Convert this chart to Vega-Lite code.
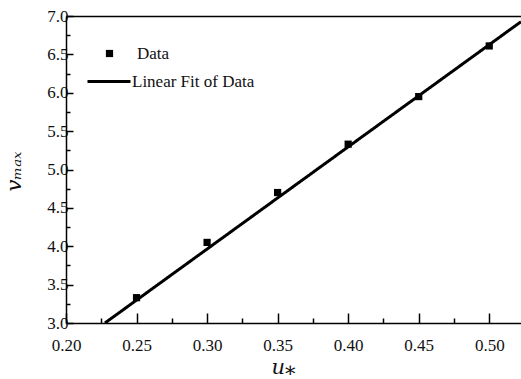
{
  "$schema": "https://vega.github.io/schema/vega-lite/v6.json",
  "width": 455,
  "height": 307,
  "autosize": {"type": "none"},
  "padding": {"left": 66, "top": 16, "right": 0, "bottom": 56},
  "background": "white",
  "config": {
    "view": {"stroke": null},
    "font": "Liberation Serif, Times New Roman, serif",
    "axis": {
      "labelFont": "Liberation Serif, Times New Roman, serif",
      "labelFontSize": 17,
      "labelColor": "#111",
      "titleColor": "#111",
      "domainColor": "black",
      "domainWidth": 1.5,
      "tickColor": "black",
      "tickWidth": 1.5,
      "grid": false,
      "labelOverlap": false,
      "labelFlush": false
    },
    "legend": {
      "labelFont": "Liberation Serif, Times New Roman, serif",
      "labelFontSize": 17,
      "labelColor": "#111",
      "padding": 0,
      "title": null
    }
  },
  "datasets": {
    "measured": [
      {"u": 0.25, "v": 3.33},
      {"u": 0.30, "v": 4.05},
      {"u": 0.35, "v": 4.70},
      {"u": 0.40, "v": 5.33},
      {"u": 0.45, "v": 5.95},
      {"u": 0.50, "v": 6.61}
    ],
    "fit": [
      {"u": 0.2276, "v": 3.0},
      {"u": 0.5225, "v": 6.926}
    ]
  },
  "layer": [
    {
      "data": {"name": "fit"},
      "mark": {"type": "line", "color": "black", "strokeWidth": 3, "clip": true},
      "encoding": {
        "x": {
          "field": "u", "type": "quantitative",
          "scale": {"domain": [0.2, 0.5225], "nice": false, "zero": false},
          "axis": {"orient": "top", "labels": false, "ticks": false, "title": null}
        },
        "y": {
          "field": "v", "type": "quantitative",
          "scale": {"domain": [3, 7], "nice": false, "zero": false},
          "axis": null
        },
        "strokeDash": {
          "datum": "Linear Fit of Data", "type": "nominal",
          "scale": {"range": [[1, 0]]},
          "legend": {
            "orient": "none", "legendX": 20, "legendY": 42.5,
            "symbolType": "stroke", "symbolSize": 1849,
            "symbolStrokeWidth": 3, "symbolStrokeColor": "black",
            "labelOffset": 0
          }
        }
      }
    },
    {
      "data": {"name": "measured"},
      "mark": {"type": "point", "filled": true, "color": "black", "opacity": 1, "size": 52},
      "encoding": {
        "x": {
          "field": "u", "type": "quantitative",
          "scale": {"domain": [0.2, 0.5225], "nice": false, "zero": false},
          "axis": {
            "orient": "bottom",
            "values": [0.2, 0.225, 0.25, 0.275, 0.3, 0.325, 0.35, 0.375, 0.4, 0.425, 0.45, 0.475, 0.5],
            "labelOverlap": false,
            "labelExpr": "abs(round(datum.value*20) - datum.value*20) < 1e-6 ? format(datum.value, '.2f') : ''",
            "tickSize": {"condition": {"test": "abs(round(datum.value*20) - datum.value*20) < 1e-6", "value": -10}, "value": -5},
            "labelPadding": 24,
            "title": "u⁎",
            "titleFont": "DejaVu Serif",
            "titleFontStyle": "italic",
            "titleFontWeight": "normal",
            "titleFontSize": 21,
            "titleX": 217,
            "titleY": 50,
            "titleBaseline": "alphabetic"
          }
        },
        "y": {
          "field": "v", "type": "quantitative",
          "scale": {"domain": [3, 7], "nice": false, "zero": false},
          "axis": {
            "orient": "left",
            "values": [3, 3.25, 3.5, 3.75, 4, 4.25, 4.5, 4.75, 5, 5.25, 5.5, 5.75, 6, 6.25, 6.5, 6.75, 7],
            "labelOverlap": false,
            "labelExpr": "abs(round(datum.value*2) - datum.value*2) < 1e-6 ? format(datum.value, '.1f') : ''",
            "tickSize": {"condition": {"test": "abs(round(datum.value*2) - datum.value*2) < 1e-6", "value": -7}, "value": -4},
            "labelPadding": 5,
            "title": "vₘₐₓ",
            "titleFont": "DejaVu Serif",
            "titleFontStyle": "italic",
            "titleFontWeight": "normal",
            "titleFontSize": 21,
            "titleAngle": -90,
            "titleAlign": "center",
            "titleBaseline": "middle",
            "titleX": -52,
            "titleY": 155
          }
        },
        "shape": {
          "datum": "Data", "type": "nominal",
          "scale": {"range": ["square"]},
          "legend": {
            "orient": "none", "legendX": 35, "legendY": 29,
            "symbolSize": 52, "symbolFillColor": "black", "symbolStrokeColor": "black",
            "labelOffset": 19
          }
        }
      }
    }
  ],
  "resolve": {"axis": {"x": "independent", "y": "independent"}}
}
